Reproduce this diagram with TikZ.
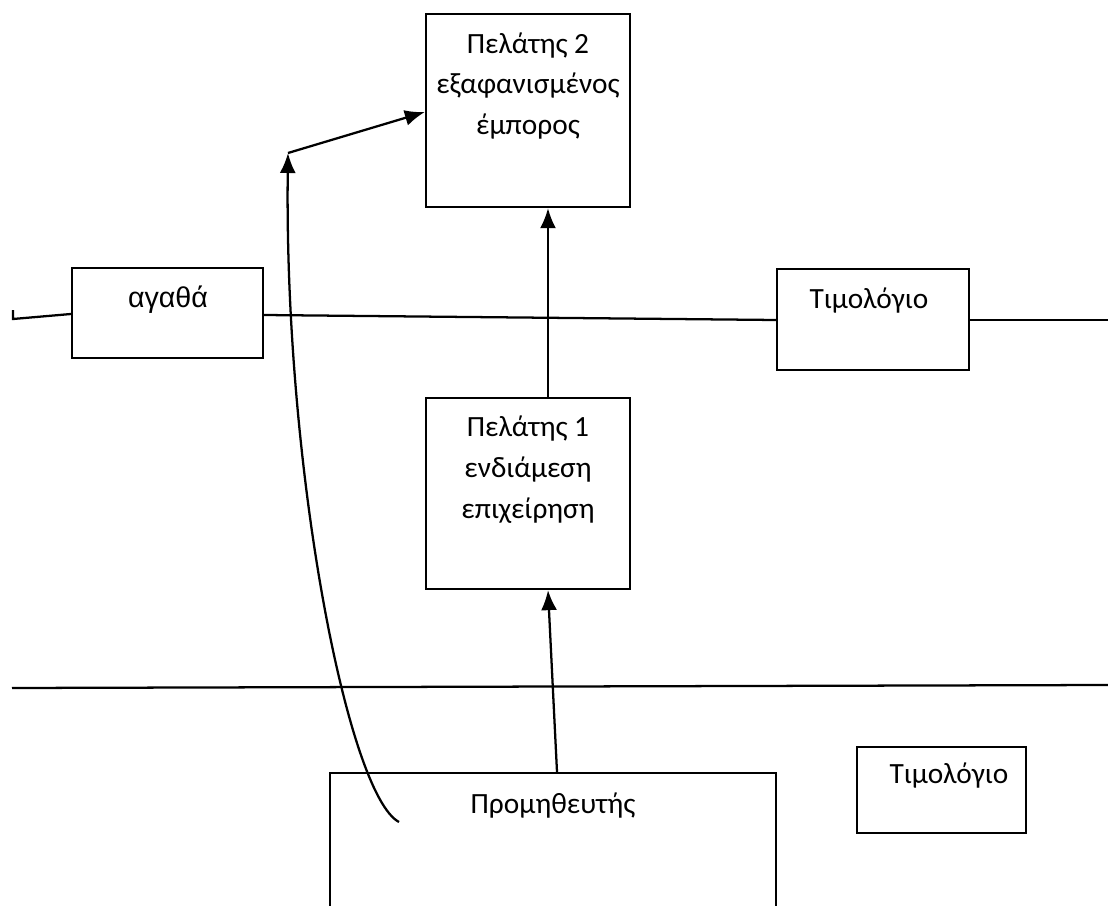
\documentclass[tikz,border=0pt]{standalone}
\usepackage{fontspec}
\setmainfont{Carlito}
\newfontfamily\arialgr{Liberation Sans}
\usetikzlibrary{arrows.meta,calc}
\begin{document}
\begin{tikzpicture}[x=0.75pt,y=-0.75pt,
  box/.style={draw,line width=1.7pt,rectangle,inner sep=0pt},
  lbl/.style={align=center,anchor=base,inner sep=0pt,
    font=\fontsize{22}{30.75}\selectfont},
  ln/.style={line width=1.7pt},
  arr/.style={line width=1.7pt,-{Latex[length=15pt,width=12pt]}}]
\clip (0,0) rectangle (1108,906);
\fill[white] (0,0) rectangle (1108,906);

% boxes
\node[box,minimum width=153pt,minimum height=144.75pt] (p2) at (528,110.5) {};
\node[box,minimum width=143.25pt,minimum height=67.5pt] (ag) at (167.5,313) {};
\node[box,minimum width=144pt,minimum height=75.75pt] (t1) at (873,319.5) {};
\node[box,minimum width=153pt,minimum height=143.25pt] (p1) at (528,493.5) {};
\node[box,minimum width=334.5pt,minimum height=117.75pt] (pr) at (553,851.5) {};
\node[box,minimum width=126.75pt,minimum height=64.5pt] (t2) at (941.5,790) {};

% texts (multi-line labels are placed by the baseline of their last line)
\node[lbl] (p2t) at (528,135) {Πελάτης 2\\εξαφανισμένος\\έμπορος};
\node[lbl,font=\arialgr\fontsize{21.5}{24}\selectfont] (agt) at (168,307) {αγαθά};
\node[lbl] (t1t) at (869,308) {Τιμολόγιο};
\node[lbl] (p1t) at (528,518) {Πελάτης 1\\ενδιάμεση\\επιχείρηση};
\node[lbl] (prt) at (553,813) {Προμηθευτής};
\node[lbl] (t2t) at (949,783) {Τιμολόγιο};

% horizontal lines
\coordinate (l0) at (13,310);
\coordinate (l1) at (13,319);
\draw[ln] (l0) -- (l1) -- (ag.west |- 0,314);
\draw[ln] (ag.east |- 0,315) -- (t1.west |- 0,320);
\coordinate (r1) at (1108,320);
\draw[ln] (t1.east |- 0,320) -- (r1);
\coordinate (h0) at (12,688);
\coordinate (h1) at (1108,685);
\draw[ln] (h0) -- (h1);

% arrows
\draw[arr] ($(p1.north)+(20,0)$) -- ($(p2.south)+(20,0)$);
\draw[arr] ($(pr.north)+(4,0)$) -- ($(p1.south)+(20,0)$);
\coordinate (c0) at (399,822);
\coordinate (c1) at (288,153);
\draw[arr] (c0) .. controls (348,795) and (284,470) .. (c1);
\draw[arr] (c1) -- (p2.west |- 0,112);
\end{tikzpicture}
\end{document}
